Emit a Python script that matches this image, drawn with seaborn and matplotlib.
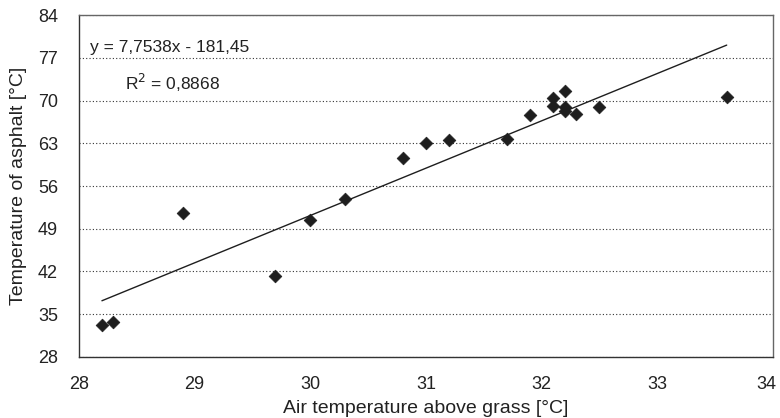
import numpy as np
import pandas as pd
import seaborn as sns
import matplotlib.pyplot as plt
import matplotlib.transforms as mtransforms

# air temperature above grass vs asphalt temperature
air_temp = [28.2, 28.3, 28.9, 29.7, 30.0, 30.3, 30.8, 31.0, 31.2, 31.7,
            31.9, 32.1, 32.1, 32.2, 32.2, 32.2, 32.3, 32.5, 33.6]
asphalt_temp = [33.2, 33.7, 51.5, 41.2, 50.4, 53.9, 60.6, 63.0, 63.6, 63.7,
                67.6, 70.4, 69.1, 71.6, 69.0, 68.3, 67.8, 68.9, 70.5]

# trendline given on the chart
slope = 7.7538
intercept = -181.45

y_ticks = [28, 35, 42, 49, 56, 63, 70, 77, 84]
x_ticks = [28, 29, 30, 31, 32, 33, 34]

data = pd.DataFrame({'air': air_temp, 'asphalt': asphalt_temp})

sns.set_style('white')
plt.rcParams['font.family'] = ['Liberation Sans', 'DejaVu Sans']

fig = plt.figure(figsize=(7.8, 4.18), dpi=100)
ax = fig.add_axes([0.101, 0.146, 0.890, 0.818])

sns.scatterplot(data=data, x='air', y='asphalt', marker='D', s=42,
                color='#1e1e1e', edgecolor='#1e1e1e', linewidth=0.5, ax=ax, zorder=3)

xs = np.array([min(air_temp), max(air_temp)])
sns.lineplot(x=xs, y=slope * xs + intercept, color='#1e1e1e', linewidth=1.0, ax=ax, zorder=2)

ax.set_xlim(28, 34)
ax.set_ylim(28, 84)
ax.set_xticks(x_ticks)
ax.set_yticks(y_ticks)
ax.yaxis.grid(True, linestyle=(0, (1, 2)), color='#333333', linewidth=0.8)
ax.xaxis.grid(False)

for side in ['left', 'bottom']:
    ax.spines[side].set_color('#333333')
    ax.spines[side].set_linewidth(1.0)
for side in ['top', 'right']:
    ax.spines[side].set_color('#666666')
    ax.spines[side].set_linewidth(1.0)

ax.tick_params(axis='both', direction='out', length=5, width=1, color='#333333',
               labelsize=13, labelcolor='#222222')
ax.tick_params(axis='y', pad=10)
ax.tick_params(axis='x', pad=9)

# keep the last x label inside the figure
last = ax.get_xticklabels()[-1]
last.set_transform(last.get_transform() + mtransforms.ScaledTranslation(-5 / 72, 0, fig.dpi_scale_trans))

ax.set_xlabel('Air temperature above grass [°C]', fontsize=14, color='#222222', labelpad=5)
ax.set_ylabel('Temperature of asphalt [°C]', fontsize=14, color='#222222', labelpad=8)

ax.text(0.016, 0.905, 'y = 7,7538x - 181,45', transform=ax.transAxes,
        fontsize=12.5, color='#222222', va='center')
ax.text(0.066, 0.80, 'R$^2$ = 0,8868', transform=ax.transAxes,
        fontsize=12.5, color='#222222', va='center')

fig.savefig('out.png', dpi=100)
